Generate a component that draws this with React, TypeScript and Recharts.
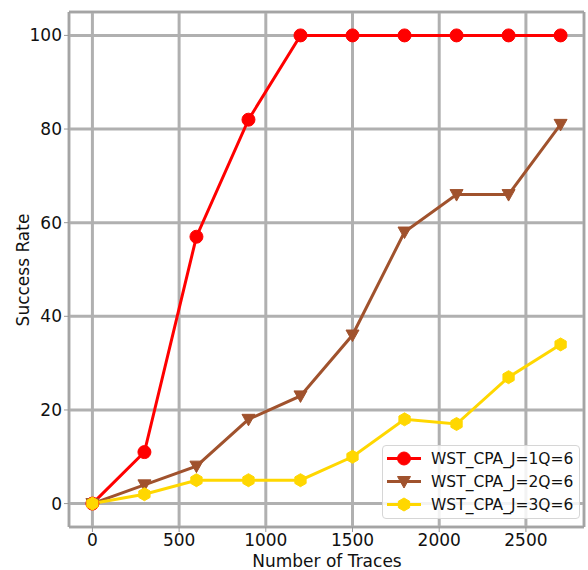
import { CartesianGrid, Line, LineChart, ReferenceArea, XAxis, YAxis } from 'recharts'

const traces = [0, 300, 600, 900, 1200, 1500, 1800, 2100, 2400, 2700]
const rateJ1 = [0, 11, 57, 82, 100, 100, 100, 100, 100, 100]
const rateJ2 = [0, 4, 8, 18, 23, 36, 58, 66, 66, 81]
const rateJ3 = [0, 2, 5, 5, 5, 10, 18, 17, 27, 34]
const xTicks = [0, 500, 1000, 1500, 2000, 2500]
const yTicks = [0, 20, 40, 60, 80, 100]

const series = [
  { key: 'j1', name: 'WST_CPA_J=1Q=6', color: '#ff0000', marker: 'circle' },
  { key: 'j2', name: 'WST_CPA_J=2Q=6', color: '#a0522d', marker: 'triangle' },
  { key: 'j3', name: 'WST_CPA_J=3Q=6', color: '#ffd700', marker: 'hexagon' },
]

const data = traces.map((t, i) => ({ traces: t, j1: rateJ1[i], j2: rateJ2[i], j3: rateJ3[i] }))

const FONT = '"DejaVu Sans", sans-serif'

function Marker({ cx, cy, kind, color }: { cx?: number; cy?: number; kind: string; color: string }) {
  if (cx == null || cy == null) return null
  if (kind === 'circle') return <circle cx={cx} cy={cy} r={6.5} fill={color} stroke={color} />
  if (kind === 'triangle') {
    return (
      <polygon
        points={`${cx - 6.5},${cy - 5} ${cx + 6.5},${cy - 5} ${cx},${cy + 6.5}`}
        fill={color}
        stroke={color}
      />
    )
  }
  const r = 6.5
  const pts = [0, 1, 2, 3, 4, 5]
    .map((k) => {
      const a = (Math.PI / 3) * k - Math.PI / 2
      return `${cx + r * Math.cos(a)},${cy + r * Math.sin(a)}`
    })
    .join(' ')
  return <polygon points={pts} fill={color} stroke={color} />
}

function LegendBox() {
  return (
    <div
      style={{
        position: 'absolute',
        left: 382,
        top: 445,
        width: 198,
        height: 74,
        background: 'rgba(255,255,255,0.85)',
        border: '1px solid #d6d6d6',
        borderRadius: 4,
        boxSizing: 'border-box',
        fontFamily: FONT,
        fontSize: 15.5,
        color: '#111',
      }}
    >
      {series.map((s, i) => (
        <div key={s.key} style={{ position: 'absolute', left: 0, top: 1 + i * 23, height: 23, display: 'flex', alignItems: 'center' }}>
          <svg width={48} height={23}>
            <line x1={4} x2={38} y1={11.5} y2={11.5} stroke={s.color} strokeWidth={3} />
            <Marker cx={21} cy={11.5} kind={s.marker} color={s.color} />
          </svg>
          <span>{s.name}</span>
        </div>
      ))}
    </div>
  )
}

export default function App() {
  return (
    <div style={{ position: 'absolute', left: 0, top: 0, width: 588, height: 570, background: '#fff' }}>
      <LineChart width={588} height={570} data={data} margin={{ top: 12, right: 4, bottom: 0, left: 0 }}>
        <CartesianGrid stroke="#b0b0b0" strokeWidth={3} />
        <XAxis
          dataKey="traces"
          type="number"
          domain={[-135, 2835]}
          ticks={xTicks}
          height={43}
          axisLine={false}
          tickLine={{ stroke: '#999' }}
          tickSize={5}
          tick={{ fill: '#111', fontSize: 17, fontFamily: FONT }}
        />
        <YAxis
          type="number"
          domain={[-5, 105]}
          ticks={yTicks}
          width={69}
          axisLine={false}
          tickLine={{ stroke: '#999' }}
          tickSize={5}
          tick={{ fill: '#111', fontSize: 17, fontFamily: FONT }}
        />
        <ReferenceArea x1={-135} x2={2835} y1={-5} y2={105} fill="none" stroke="#999" strokeWidth={1} ifOverflow="extendDomain" />
        {series.map((s) => (
          <Line
            key={s.key}
            dataKey={s.key}
            name={s.name}
            type="linear"
            stroke={s.color}
            strokeWidth={3}
            isAnimationActive={false}
            dot={(p: any) => <Marker key={`${s.key}-${p.index}`} cx={p.cx} cy={p.cy} kind={s.marker} color={s.color} />}
            activeDot={false}
          />
        ))}
      </LineChart>
      <svg width={588} height={570} style={{ position: 'absolute', left: 0, top: 0, pointerEvents: 'none' }}>
        <text x={327} y={567} textAnchor="middle" fontFamily={FONT} fontSize={17} fill="#111">
          Number of Traces
        </text>
        <text x={29} y={270} textAnchor="middle" fontFamily={FONT} fontSize={17} fill="#111" transform="rotate(-90 29 270)">
          Success Rate
        </text>
      </svg>
      <LegendBox />
    </div>
  )
}
